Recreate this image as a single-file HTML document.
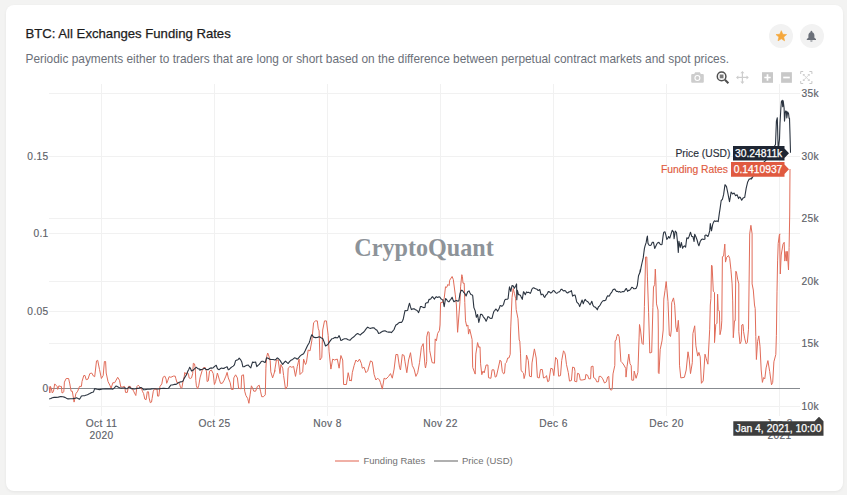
<!DOCTYPE html>
<html><head><meta charset="utf-8"><style>
html,body{margin:0;padding:0;}
body{width:847px;height:495px;background:#f3f3f2;position:relative;overflow:hidden;font-family:"Liberation Sans",sans-serif;}
.card{position:absolute;left:6px;top:5px;width:837px;height:486px;background:#fff;border-radius:8px;box-shadow:0 1px 3px rgba(0,0,0,0.06);}
.title{position:absolute;left:25.5px;top:26px;font-size:13.15px;line-height:16px;color:#1c1c1c;white-space:nowrap;-webkit-text-stroke:0.25px #1c1c1c;}
.sub{position:absolute;left:25.5px;top:51.8px;font-size:11.88px;line-height:14px;color:#6b7079;white-space:nowrap;}
.btn{position:absolute;top:24px;width:24px;height:24px;border-radius:50%;background:#f2f2f2;}
svg{position:absolute;left:0;top:0;}
</style></head><body>
<div class="card"></div>
<div class="title">BTC: All Exchanges Funding Rates</div>
<div class="sub">Periodic payments either to traders that are long or short based on the difference between perpetual contract markets and spot prices.</div>
<div class="btn" style="left:769px"></div>
<div class="btn" style="left:800px"></div>
<svg width="847" height="495" viewBox="0 0 847 495" font-family="Liberation Sans">
<path d="M781.30,30.70 L782.80,34.24 L786.63,34.57 L783.73,37.09 L784.59,40.83 L781.30,38.85 L778.01,40.83 L778.87,37.09 L775.97,34.57 L779.80,34.24 Z" fill="#f5a73b" stroke="#f5a73b" stroke-width="0.6" stroke-linejoin="round"/>
<path d="M808.4,35.2 c0,-1.9 1.3,-3.2 3,-3.2 c1.7,0 3,1.3 3,3.2 l0,2.5 l1.6,1.3 l0,0.9 l-9.2,0 l0,-0.9 l1.6,-1.3 Z M810.2,40.4 h2.4 a1.2,1.2 0 0 1 -2.4,0 Z" fill="#6b7079"/><circle cx="811.4" cy="31.7" r="0.9" fill="#6b7079"/>
<g stroke="#f1f1f1" stroke-width="1"><line x1="49" x2="800" y1="156.5" y2="156.5"/><line x1="49" x2="800" y1="233.5" y2="233.5"/><line x1="49" x2="800" y1="311.5" y2="311.5"/><line x1="49" x2="800" y1="93.5" y2="93.5"/><line x1="49" x2="800" y1="156.5" y2="156.5"/><line x1="49" x2="800" y1="218.5" y2="218.5"/><line x1="49" x2="800" y1="281.5" y2="281.5"/><line x1="49" x2="800" y1="343.5" y2="343.5"/><line x1="49" x2="800" y1="406.5" y2="406.5"/><line x1="101.5" x2="101.5" y1="84" y2="416"/><line x1="214.5" x2="214.5" y1="84" y2="416"/><line x1="327.5" x2="327.5" y1="84" y2="416"/><line x1="440.5" x2="440.5" y1="84" y2="416"/><line x1="553.5" x2="553.5" y1="84" y2="416"/><line x1="666.5" x2="666.5" y1="84" y2="416"/><line x1="779.5" x2="779.5" y1="84" y2="416"/></g>
<text x="354.3" y="256" font-family="Liberation Serif" font-weight="bold" font-size="25" fill="#8d9399" textLength="139.5" lengthAdjust="spacingAndGlyphs">CryptoQuant</text>
<line x1="49" x2="800" y1="388.5" y2="388.5" stroke="#878b90" stroke-width="1"/>
<g font-size="10.2" letter-spacing="0.35" fill="#5d6168" stroke="#5d6168" stroke-width="0.15"><text x="48.6" y="159.8" text-anchor="end">0.15</text><text x="48.6" y="236.8" text-anchor="end">0.1</text><text x="48.6" y="314.8" text-anchor="end">0.05</text><text x="48.6" y="391.8" text-anchor="end">0</text><text x="801.5" y="96.8">35k</text><text x="801.5" y="159.8">30k</text><text x="801.5" y="221.8">25k</text><text x="801.5" y="284.8">20k</text><text x="801.5" y="346.8">15k</text><text x="801.5" y="409.8">10k</text><text x="101.5" y="426.8" text-anchor="middle">Oct 11</text><text x="101.5" y="438.7" text-anchor="middle">2020</text><text x="214.5" y="426.8" text-anchor="middle">Oct 25</text><text x="327.5" y="426.8" text-anchor="middle">Nov 8</text><text x="440.5" y="426.8" text-anchor="middle">Nov 22</text><text x="553.5" y="426.8" text-anchor="middle">Dec 6</text><text x="666.5" y="426.8" text-anchor="middle">Dec 20</text><text x="779.5" y="426.8" text-anchor="middle">Jan 3</text><text x="779.5" y="438.7" text-anchor="middle">2021</text></g>
<path d="M49.2,386.4 L49.8,393.0 L50.5,386.4 L51.7,390.0 L52.3,393.0 L53.5,391.2 L54.7,383.9 L55.9,385.2 L57.1,386.4 L57.7,389.4 L58.9,385.8 L60.2,386.4 L61.4,386.4 L62.0,393.0 L63.2,392.4 L63.8,391.8 L64.4,382.1 L66.2,378.5 L68.6,378.5 L69.8,383.9 L71.1,391.2 L72.3,391.2 L74.1,402.1 L75.9,393.6 L77.7,391.2 L79.5,386.4 L81.4,386.4 L82.0,381.5 L83.8,375.5 L85.0,375.5 L86.2,379.7 L88.0,379.1 L89.8,373.6 L91.7,373.0 L93.5,376.1 L94.7,376.7 L96.5,360.9 L97.7,360.3 L99.5,369.4 L101.4,378.5 L103.2,375.5 L104.4,361.5 L105.6,361.5 L106.2,373.0 L108.0,381.5 L109.8,385.2 L111.1,388.2 L112.9,382.7 L114.7,382.7 L117.7,377.3 L119.5,380.3 L120.8,387.0 L122.6,387.0 L124.4,386.4 L124.8,387.0 L125.5,392.4 L127.3,392.4 L128.5,386.4 L130.3,386.4 L131.5,388.8 L132.7,389.4 L133.9,391.8 L135.8,395.5 L137.0,386.4 L138.2,385.2 L139.4,386.4 L140.0,388.8 L141.2,387.6 L142.4,391.2 L143.6,393.6 L144.8,399.1 L146.1,399.7 L147.3,391.8 L148.5,391.8 L149.1,397.9 L150.3,402.7 L151.5,402.1 L152.1,398.5 L153.3,391.2 L154.5,388.8 L155.8,389.4 L157.0,388.8 L157.6,396.1 L158.8,396.1 L160.0,386.4 L161.8,383.9 L163.0,377.3 L164.8,376.1 L166.1,379.1 L166.7,383.3 L167.9,380.3 L169.1,376.7 L170.9,377.3 L173.3,376.1 L175.2,376.1 L175.8,378.5 L177.0,382.7 L178.2,382.1 L179.4,383.3 L180.6,387.6 L181.8,388.2 L183.0,381.5 L184.2,376.7 L184.8,372.4 L186.1,374.2 L187.3,372.4 L188.5,374.2 L189.1,377.9 L190.3,378.5 L191.5,377.9 L192.7,373.6 L193.3,363.3 L194.5,363.9 L195.2,367.6 L195.8,380.3 L196.4,385.8 L197.6,388.8 L198.8,385.2 L200.0,377.9 L200.5,376.1 L202.3,370.0 L203.5,367.6 L205.3,367.6 L206.5,371.8 L207.1,381.5 L208.3,380.9 L209.5,371.2 L211.4,370.0 L213.2,373.6 L214.4,384.5 L215.6,381.5 L217.4,373.0 L219.2,379.1 L220.5,383.3 L222.3,383.3 L224.1,380.3 L225.9,376.1 L227.1,372.4 L228.3,377.9 L230.2,382.7 L231.4,389.4 L233.2,389.4 L233.8,377.9 L235.6,374.8 L237.4,377.9 L238.6,388.2 L241.1,388.8 L241.7,375.5 L243.5,374.8 L244.7,391.2 L245.9,395.5 L247.7,398.5 L248.9,403.3 L250.2,394.2 L251.4,385.8 L252.6,388.2 L253.8,391.2 L255.6,391.2 L257.4,386.4 L259.2,385.2 L260.5,391.2 L261.7,396.7 L263.5,396.7 L265.3,394.8 L265.9,368.2 L266.5,357.3 L267.7,353.0 L268.9,356.1 L270.2,360.9 L270.8,371.8 L272.6,377.9 L273.8,374.2 L275.0,370.6 L274.5,371.8 L276.4,360.0 L278.2,360.0 L280.0,373.6 L280.9,364.5 L282.7,368.2 L283.6,375.5 L285.5,389.1 L287.3,386.4 L288.2,368.2 L290.0,366.4 L291.8,367.3 L293.6,366.4 L295.5,376.4 L297.3,366.4 L298.2,362.7 L299.1,359.1 L300.0,374.5 L302.7,371.8 L303.6,359.1 L305.5,364.5 L306.4,362.7 L308.2,350.0 L310.0,350.9 L311.8,340.9 L313.6,322.7 L315.5,320.9 L317.3,320.9 L318.2,328.2 L319.1,330.9 L320.0,360.0 L321.8,357.3 L322.7,330.0 L324.5,320.9 L326.4,320.9 L328.2,335.5 L329.1,351.8 L330.9,369.1 L332.7,359.1 L334.5,360.0 L337.3,359.1 L339.1,368.2 L340.9,355.5 L342.7,360.0 L343.6,384.5 L346.4,384.5 L348.2,372.7 L350.0,380.9 L349.5,380.0 L351.4,380.9 L352.3,372.7 L354.1,365.5 L355.9,360.0 L357.7,361.8 L359.5,359.1 L361.4,363.6 L362.3,368.2 L364.1,367.3 L365.9,372.7 L367.7,370.9 L370.5,360.9 L372.3,361.8 L374.1,374.5 L375.9,380.0 L377.7,378.2 L379.5,380.0 L380.5,382.7 L382.3,389.1 L384.1,378.2 L385.9,379.1 L388.6,376.4 L390.5,373.6 L392.3,378.2 L394.1,369.1 L395.9,354.5 L397.7,354.5 L399.5,367.3 L400.5,370.0 L402.3,354.5 L404.1,355.5 L405.0,361.8 L406.8,372.7 L408.6,360.0 L410.5,352.7 L412.3,365.5 L414.1,369.1 L415.9,376.4 L417.7,372.7 L419.5,362.7 L421.4,347.3 L423.2,343.6 L425.0,365.5 L425.5,368.0 L426.7,361.4 L426.7,337.1 L427.9,331.7 L429.1,332.3 L429.7,350.5 L432.1,362.6 L434.5,363.2 L435.2,338.9 L436.4,340.8 L437.6,333.5 L439.4,330.5 L440.0,325.0 L440.6,302.6 L442.4,302.6 L444.2,298.3 L445.5,286.8 L446.7,287.4 L447.9,284.4 L449.1,285.6 L449.7,280.2 L452.1,276.5 L453.3,279.5 L455.2,294.1 L456.4,305.0 L457.6,332.3 L460.0,301.4 L460.6,286.8 L461.8,274.7 L462.4,276.5 L463.0,283.2 L464.2,283.2 L464.8,302.6 L465.5,320.8 L466.7,326.2 L467.9,325.0 L468.5,334.1 L469.7,329.2 L472.1,339.5 L472.7,367.4 L475.2,374.1 L475.8,354.1 L477.6,342.6 L478.8,347.4 L480.0,346.8 L480.6,363.8 L481.8,374.7 L483.0,371.1 L484.2,372.9 L486.1,365.0 L487.9,365.0 L488.5,377.7 L490.9,378.3 L492.1,369.8 L493.9,369.8 L495.2,377.1 L496.4,376.5 L500.0,360.2 L499.8,360.5 L501.1,361.1 L502.3,371.4 L503.5,373.8 L504.5,373.2 L505.3,363.5 L506.5,362.3 L507.7,358.0 L508.9,358.0 L510.2,354.4 L510.5,335.0 L510.8,326.1 L512.0,297.6 L513.2,288.5 L514.4,293.3 L515.6,298.2 L516.2,309.7 L518.0,318.8 L519.2,340.0 L519.8,341.1 L520.5,353.2 L521.1,370.2 L522.3,372.0 L523.5,373.2 L524.1,378.6 L525.3,373.8 L526.5,355.0 L528.3,360.5 L529.5,376.2 L531.4,376.8 L532.0,362.9 L534.4,348.9 L536.2,358.0 L537.4,377.4 L539.2,378.0 L540.5,369.5 L542.3,369.5 L543.5,378.0 L545.3,377.4 L546.5,375.6 L547.7,381.7 L548.9,381.1 L550.8,368.3 L552.6,368.9 L553.8,375.6 L555.6,357.4 L557.4,359.8 L558.6,376.2 L560.5,375.6 L561.7,360.5 L563.5,350.8 L564.7,352.6 L565.3,355.0 L566.5,364.7 L568.3,372.6 L569.5,381.1 L571.4,380.5 L572.6,367.1 L574.4,367.7 L575.0,371.4 L574.6,381.2 L576.7,381.8 L577.5,373.3 L579.1,373.9 L580.3,380.0 L582.1,380.0 L585.2,379.4 L585.8,374.5 L587.6,375.2 L588.8,378.8 L590.6,378.8 L591.2,366.7 L593.0,366.1 L593.6,377.6 L595.5,378.8 L596.7,381.8 L598.5,381.8 L599.1,376.4 L600.9,376.4 L602.7,378.8 L604.5,383.0 L606.4,381.8 L607.6,377.0 L608.8,376.4 L609.4,388.5 L611.2,390.3 L612.2,389.1 L613.0,373.9 L614.8,365.5 L615.1,340.8 L616.1,340.2 L616.7,336.5 L617.9,334.1 L619.1,336.5 L619.7,343.2 L620.9,361.4 L622.1,362.6 L623.9,365.0 L625.8,368.6 L626.0,377.1 L627.0,366.8 L628.8,354.1 L630.0,363.8 L631.2,365.6 L631.8,380.2 L633.6,380.2 L634.2,371.1 L636.1,378.3 L637.9,372.3 L639.1,337.1 L639.5,324.5 L640.5,330.0 L642.0,343.3 L643.2,344.5 L643.8,330.0 L644.4,306.4 L645.6,257.0 L646.8,257.0 L647.4,276.1 L648.6,312.4 L649.8,353.0 L651.7,352.4 L652.3,330.0 L652.9,307.6 L653.5,287.0 L654.7,284.5 L655.3,269.1 L655.9,282.1 L656.5,303.9 L658.0,310.0 L658.3,330.0 L658.3,372.4 L659.0,373.6 L660.2,349.4 L662.0,340.9 L663.2,330.0 L663.8,299.1 L665.0,290.6 L666.2,281.5 L666.8,288.2 L668.0,301.5 L669.3,335.0 L670.5,336.5 L671.3,330.0 L671.7,302.7 L673.5,297.9 L674.7,305.2 L675.9,327.0 L677.1,332.0 L678.3,320.3 L679.0,330.0 L679.5,365.2 L680.8,377.9 L684.4,377.3 L686.2,370.0 L688.0,351.8 L689.2,359.1 L690.5,373.6 L692.3,362.7 L692.9,333.6 L694.7,325.8 L695.9,345.8 L697.7,356.1 L698.9,352.4 L700.2,356.7 L701.4,383.3 L703.2,380.9 L705.0,354.2 L706.1,358.2 L707.9,364.2 L709.7,329.2 L710.3,305.0 L710.9,298.5 L711.5,265.2 L712.1,265.8 L713.3,291.2 L714.5,292.4 L714.5,342.6 L715.8,324.4 L717.0,323.2 L717.6,294.2 L718.2,309.8 L719.4,311.1 L720.0,334.7 L721.2,329.2 L721.8,320.8 L722.4,256.7 L723.6,256.1 L724.8,244.1 L725.5,262.1 L726.7,257.3 L728.5,255.5 L729.7,258.5 L730.9,269.4 L732.1,283.9 L732.7,300.9 L733.3,337.7 L734.5,320.8 L735.2,320.8 L735.8,271.2 L736.4,271.8 L737.6,279.1 L738.8,283.9 L738.8,331.7 L740.0,343.8 L741.2,341.4 L741.8,325.0 L743.0,324.4 L743.6,331.7 L744.8,338.9 L746.1,343.8 L747.3,342.6 L748.5,329.2 L749.7,233.8 L750.9,225.3 L752.1,233.8 L752.1,283.9 L753.3,290.0 L754.5,305.0 L755.2,308.6 L755.8,336.5 L756.4,359.5 L757.6,341.4 L758.8,335.9 L760.0,346.2 L761.2,370.0 L762.4,382.4 L763.6,377.6 L764.8,378.8 L766.1,367.9 L767.9,360.6 L769.7,371.5 L771.5,384.8 L772.7,382.4 L773.9,361.8 L775.8,354.5 L776.4,335.3 L777.0,291.2 L777.6,260.9 L778.2,243.5 L779.4,234.4 L780.0,233.8 L779.6,235.6 L780.3,274.0 L781.2,255.0 L783.0,244.1 L784.2,242.3 L784.8,261.1 L786.1,251.4 L786.7,261.1 L787.3,251.4 L788.5,270.0 L789.1,247.7 L789.7,215.0 L790.0,169.0" fill="none" stroke="#e16c59" stroke-width="1" stroke-linejoin="round"/>
<path d="M49.2,399.1 L50.8,398.6 L52.3,397.8 L54.1,397.4 L55.9,397.4 L58.3,397.1 L60.8,396.5 L62.9,396.8 L65.0,397.4 L66.5,398.3 L68.0,398.9 L70.5,398.7 L72.9,398.6 L74.7,398.4 L76.5,397.8 L78.0,398.4 L79.5,399.2 L80.5,397.7 L81.4,396.0 L83.2,395.7 L85.0,395.6 L87.4,394.8 L89.8,393.6 L91.7,392.5 L93.5,391.9 L94.7,388.6 L97.1,389.3 L99.5,389.6 L102.6,389.0 L105.6,388.7 L108.0,388.9 L110.5,388.9 L111.7,388.9 L112.9,389.2 L114.4,387.8 L115.9,386.0 L116.8,386.3 L117.7,386.8 L119.5,387.7 L121.4,388.3 L123.2,388.0 L125.0,387.9 L124.8,388.3 L126.1,388.7 L127.3,388.6 L128.5,387.6 L129.7,387.1 L130.6,388.1 L131.5,388.7 L132.4,388.6 L133.3,388.9 L134.5,389.0 L135.8,388.7 L137.0,388.4 L138.2,388.4 L139.4,388.1 L140.6,387.5 L141.5,387.8 L142.4,388.4 L143.6,389.8 L144.8,389.8 L146.1,389.5 L147.6,389.2 L149.1,389.2 L150.3,389.2 L151.5,388.9 L153.3,388.7 L155.2,388.7 L157.0,389.0 L158.8,388.9 L161.2,388.5 L163.6,388.3 L166.1,388.5 L168.5,388.3 L169.7,386.6 L170.9,385.0 L172.1,385.0 L173.3,384.7 L174.5,384.4 L175.8,384.4 L177.0,383.7 L178.2,382.9 L179.4,382.2 L180.6,381.9 L181.8,381.7 L183.0,381.1 L184.2,378.4 L185.5,376.2 L186.7,374.4 L187.9,371.0 L188.8,369.4 L189.7,367.3 L190.6,368.8 L191.5,371.0 L192.7,370.5 L193.9,369.5 L195.2,368.1 L196.4,367.3 L197.6,368.4 L198.8,368.9 L200.0,369.2 L199.8,370.3 L201.1,369.6 L202.3,369.3 L203.2,369.0 L204.1,368.4 L205.0,368.5 L205.9,369.3 L207.1,369.6 L208.3,369.6 L209.5,368.5 L210.8,367.9 L212.0,368.1 L213.2,367.8 L214.1,366.8 L215.0,366.1 L216.2,365.3 L217.4,368.5 L218.3,369.4 L219.2,369.6 L220.5,368.5 L221.7,368.0 L222.9,368.4 L224.1,368.4 L225.0,367.6 L225.9,367.3 L227.1,366.7 L228.3,369.8 L229.2,369.4 L230.2,368.4 L231.1,367.5 L232.0,366.9 L233.2,366.1 L234.4,364.8 L235.6,360.7 L236.5,360.1 L237.4,360.0 L238.3,359.4 L239.2,358.2 L240.5,359.6 L241.7,361.7 L242.9,366.8 L244.1,366.7 L245.3,366.0 L246.8,365.3 L248.3,365.0 L249.5,366.7 L250.8,367.8 L251.7,364.6 L252.6,362.0 L253.5,362.4 L254.4,362.2 L255.6,362.0 L256.8,366.6 L258.0,365.4 L259.2,364.4 L260.2,363.2 L261.1,361.7 L262.0,361.3 L262.9,361.3 L264.1,362.1 L265.3,362.4 L266.5,357.8 L267.7,358.1 L268.9,358.7 L270.2,359.4 L271.4,359.5 L273.2,359.5 L275.0,360.0 L276.1,359.2 L277.3,357.9 L278.6,358.8 L280.0,360.3 L281.4,362.6 L282.7,364.4 L284.1,362.5 L285.5,361.1 L286.8,362.4 L288.2,363.5 L289.5,361.6 L290.9,360.3 L292.7,359.4 L294.5,357.8 L295.9,358.3 L297.3,359.2 L298.6,358.0 L300.0,356.2 L301.8,354.7 L303.6,353.8 L305.0,351.1 L306.4,348.0 L307.7,345.2 L309.1,343.0 L310.0,340.2 L310.9,337.0 L311.8,334.7 L312.7,335.8 L313.6,337.1 L315.5,337.6 L317.3,337.5 L318.6,336.9 L320.0,337.0 L321.4,338.0 L322.7,338.5 L324.1,341.9 L325.5,346.0 L326.8,345.3 L328.2,343.9 L330.0,341.1 L331.8,338.8 L333.2,338.5 L334.5,337.6 L335.9,337.4 L337.3,337.9 L338.2,337.1 L339.1,335.6 L340.0,337.7 L340.9,340.5 L341.8,340.3 L342.7,339.4 L344.5,338.8 L346.4,338.7 L348.2,339.7 L350.0,340.3 L351.1,339.0 L352.3,337.9 L353.6,337.0 L355.0,335.7 L356.4,334.2 L357.7,333.5 L359.1,334.4 L360.5,334.9 L361.8,333.4 L363.2,332.6 L364.5,331.1 L365.9,329.2 L366.8,328.0 L367.7,327.1 L369.1,328.0 L370.5,328.4 L372.3,327.8 L374.1,327.9 L375.5,329.4 L376.8,330.1 L377.7,331.5 L378.6,333.5 L380.0,333.0 L381.4,332.0 L383.2,331.1 L385.0,330.8 L386.8,331.7 L388.6,332.1 L390.0,332.0 L391.4,332.6 L392.7,331.2 L394.1,329.5 L395.0,326.9 L395.9,325.1 L397.3,324.3 L398.6,322.9 L400.0,322.3 L401.4,322.5 L402.3,321.4 L403.2,319.3 L404.1,314.8 L405.0,310.6 L406.4,310.7 L407.7,310.2 L408.6,306.2 L409.5,303.2 L410.5,306.9 L411.4,309.6 L412.7,308.9 L414.1,308.8 L415.5,309.8 L416.8,310.3 L417.7,311.2 L418.6,312.6 L419.5,310.0 L420.5,306.5 L421.4,306.5 L422.3,307.0 L423.6,307.6 L425.0,307.5 L425.5,303.4 L426.7,302.8 L427.9,302.8 L429.1,299.3 L430.0,299.4 L430.9,298.8 L431.8,297.3 L432.7,296.7 L433.6,298.2 L434.5,299.1 L435.4,297.5 L436.4,296.7 L437.3,297.4 L438.2,297.3 L439.1,296.8 L440.0,297.3 L440.9,298.8 L441.8,299.4 L443.0,300.3 L444.2,306.6 L445.5,298.6 L446.4,299.3 L447.3,300.5 L448.2,301.6 L449.1,301.8 L450.0,300.2 L450.9,299.3 L452.1,297.3 L453.0,299.8 L453.9,301.8 L455.1,301.0 L456.4,300.5 L457.6,301.1 L458.8,301.0 L460.0,293.6 L461.2,290.3 L462.1,290.4 L463.0,291.2 L463.9,292.6 L464.8,293.4 L466.1,296.0 L467.0,293.5 L467.9,291.5 L469.1,290.9 L470.0,293.0 L470.9,294.5 L471.8,294.7 L472.7,295.6 L473.9,307.6 L475.2,310.9 L476.4,317.3 L477.6,314.5 L478.8,322.4 L479.7,318.7 L480.6,314.2 L481.5,314.4 L482.4,315.0 L483.3,316.8 L484.2,317.9 L485.1,319.1 L486.1,321.3 L487.0,319.2 L487.9,316.6 L488.8,316.9 L489.7,318.0 L490.9,318.4 L492.1,318.1 L493.0,314.3 L493.9,311.3 L494.9,310.4 L495.8,309.0 L496.7,309.8 L497.6,311.3 L498.8,309.2 L500.0,306.4 L499.8,306.0 L500.8,305.6 L501.7,306.3 L502.6,305.8 L503.5,304.5 L504.7,300.2 L505.6,299.4 L506.5,299.2 L507.3,299.3 L508.1,298.6 L508.9,291.3 L509.5,286.8 L510.8,291.4 L512.0,285.6 L513.2,285.9 L514.4,288.3 L515.6,286.0 L516.6,283.9 L516.8,299.8 L517.4,290.4 L518.6,294.8 L519.5,294.8 L520.5,295.5 L521.4,297.6 L522.3,299.3 L523.5,291.7 L524.4,292.9 L525.3,294.7 L526.5,291.9 L527.4,292.6 L528.3,292.3 L529.2,292.6 L530.2,293.4 L531.1,291.7 L532.0,289.0 L532.9,288.0 L533.8,287.7 L535.0,288.6 L536.2,289.0 L537.1,289.3 L538.0,290.4 L538.9,290.2 L539.8,289.5 L541.1,294.9 L542.0,294.3 L542.9,294.3 L543.8,296.3 L544.7,297.4 L545.6,295.5 L546.5,294.7 L547.4,293.6 L548.3,291.6 L549.5,291.9 L550.8,293.1 L552.0,292.3 L553.2,290.5 L554.4,291.1 L555.6,292.6 L556.5,293.2 L557.4,293.0 L558.3,292.0 L559.2,292.0 L560.2,290.8 L561.1,289.2 L562.0,289.4 L562.9,290.5 L563.8,291.0 L564.7,290.6 L565.6,291.0 L566.5,292.4 L567.7,293.0 L568.9,291.9 L570.1,291.7 L571.4,290.6 L572.6,296.1 L573.8,295.2 L575.0,295.0 L575.5,296.6 L576.7,301.8 L577.6,303.0 L578.5,303.6 L579.7,306.6 L580.9,303.2 L582.1,300.0 L583.3,303.8 L584.2,301.1 L585.2,299.4 L586.1,300.6 L587.0,301.3 L587.9,301.8 L588.8,303.0 L590.0,304.7 L590.9,303.3 L591.8,301.2 L593.0,305.4 L594.2,306.8 L595.2,307.1 L596.1,308.0 L597.3,309.8 L598.5,306.7 L599.4,306.1 L600.3,304.7 L601.5,302.5 L602.7,301.0 L603.9,300.6 L604.8,300.6 L605.8,300.0 L606.7,297.5 L607.6,295.7 L608.5,296.1 L609.4,295.9 L610.3,294.0 L611.2,292.8 L612.1,291.6 L613.0,289.8 L613.9,289.2 L614.8,289.1 L615.8,290.6 L616.7,291.5 L617.6,291.4 L618.5,292.0 L619.7,291.6 L620.6,292.3 L621.5,292.0 L622.7,291.5 L623.9,291.7 L624.8,290.6 L625.8,288.9 L626.4,288.5 L627.6,291.4 L628.5,290.4 L629.4,290.4 L630.6,289.3 L631.8,287.2 L632.7,287.5 L633.6,288.6 L634.8,288.8 L636.1,288.4 L637.3,285.5 L638.5,275.7 L639.7,273.0 L640.3,269.5 L640.2,272.1 L641.1,267.2 L642.0,263.0 L643.2,257.9 L644.4,248.6 L645.0,246.2 L646.2,242.4 L646.8,238.5 L647.4,236.1 L648.0,243.4 L649.2,245.3 L650.2,245.5 L651.1,245.1 L652.3,242.2 L653.5,242.3 L654.7,248.5 L655.9,246.1 L656.8,244.0 L657.7,242.7 L658.9,242.4 L660.2,244.3 L661.1,244.7 L662.0,244.5 L663.2,235.1 L663.8,232.2 L665.0,231.8 L665.9,235.2 L666.8,239.5 L667.7,238.4 L668.6,236.6 L669.8,238.1 L671.1,233.8 L672.3,230.3 L673.5,231.8 L674.1,238.6 L675.3,231.0 L676.5,232.5 L677.7,243.9 L678.3,252.4 L678.9,241.2 L680.2,247.5 L681.4,242.5 L682.6,248.3 L683.5,246.6 L684.4,245.9 L685.6,247.1 L686.8,237.7 L688.0,238.7 L689.2,236.2 L690.5,232.2 L691.7,236.4 L692.9,236.5 L694.1,241.5 L694.7,234.2 L695.9,236.8 L697.1,240.0 L698.0,243.5 L698.9,245.8 L700.2,241.5 L701.4,239.6 L702.6,239.0 L703.8,239.4 L705.0,238.9 L704.8,235.6 L705.8,235.0 L706.7,235.3 L707.9,236.5 L708.8,234.2 L709.7,230.9 L710.3,223.6 L711.5,230.8 L712.7,224.4 L713.6,222.1 L714.5,220.8 L715.5,221.4 L716.4,221.1 L717.3,221.0 L718.2,221.6 L719.4,212.9 L720.0,209.1 L721.2,200.5 L722.4,199.3 L723.6,194.7 L725.0,184.7 L726.5,186.7 L728.0,193.8 L729.5,201.6 L730.3,197.2 L731.1,192.0 L732.6,193.9 L734.1,193.1 L735.6,195.7 L737.1,194.8 L738.6,198.6 L739.4,197.1 L740.2,197.2 L741.7,200.3 L743.2,197.9 L744.7,197.3 L746.2,188.1 L747.7,181.9 L749.2,179.1 L750.4,178.9 L751.5,177.9 L751.5,179.0 L755.8,171.6 L760.0,165.4 L765.0,161.1 L770.0,155.4 L772.8,149.0 L775.5,144.5 L776.4,121.2 L777.3,117.7 L778.2,150.3 L779.5,139.2 L780.0,123.4 L780.9,107.7 L781.4,101.6 L782.3,100.3 L782.7,106.8 L783.2,100.8 L784.1,108.0 L784.5,121.1 L785.5,111.0 L786.4,111.2 L786.8,118.0 L787.7,111.9 L788.6,113.8 L789.1,118.5 L789.5,118.2 L790.0,134.2 L790.5,152.7" fill="none" stroke="#2b3440" stroke-width="1.1" stroke-linejoin="round"/>
<path d="M733,146 L784.5,146 L784.5,148.5 L789,153.3 L784.5,158 L784.5,160.6 L733,160.6 Z" fill="#1f2633"/>
<text x="758.6" y="156.8" text-anchor="middle" font-size="10.3" fill="#fff" stroke="#fff" stroke-width="0.25">30.24811k</text>
<text x="730.4" y="156.8" text-anchor="end" font-size="10.3" fill="#2a2f3a" stroke="#2a2f3a" stroke-width="0.15">Price (USD)</text>
<path d="M731,162 L784.5,162 L784.5,164.5 L789,169.2 L784.5,174 L784.5,176.8 L731,176.8 Z" fill="#e05a40"/>
<text x="758" y="172.6" text-anchor="middle" font-size="10.3" fill="#fff" stroke="#fff" stroke-width="0.25">0.1410937</text>
<text x="728" y="172.6" text-anchor="end" font-size="10.3" fill="#e05a40" stroke="#e05a40" stroke-width="0.15">Funding Rates</text>
<path d="M733.3,421.2 L814.6,421.2 L819,416.8 L823.5,421.2 L823.5,435.7 L733.3,435.7 Z" fill="#3d3d3d"/>
<text x="778.5" y="431.8" text-anchor="middle" font-size="10.4" fill="#fff" stroke="#fff" stroke-width="0.25">Jan 4, 2021, 10:00</text>
<line x1="335" x2="359" y1="461" y2="461" stroke="#f0b0a6" stroke-width="2"/>
<text x="363.5" y="464" font-size="9.5" fill="#717171">Funding Rates</text>
<line x1="434" x2="458" y1="461" y2="461" stroke="#b0b0b0" stroke-width="2"/>
<text x="462" y="464" font-size="9.5" fill="#717171">Price (USD)</text>
<path d="M692.2,74 h2 l0.9,-1.8 h4.8 l0.9,1.8 h2 a1,1 0 0 1 1,1 v6.7 a1,1 0 0 1 -1,1 h-10.6 a1,1 0 0 1 -1,-1 v-6.7 a1,1 0 0 1 1,-1 Z" fill="#cdcdcd"/>
<circle cx="697.4" cy="78" r="3" fill="#fff"/>
<circle cx="697.4" cy="78" r="1.9" fill="#cdcdcd"/>
<circle cx="721.6" cy="76.4" r="4.3" fill="#fff" stroke="#505050" stroke-width="1.5"/>
<rect x="719.7" y="74.5" width="3.8" height="3.8" fill="#7a7a7a"/>
<line x1="724.9" y1="79.7" x2="728.4" y2="83.2" stroke="#505050" stroke-width="2"/>
<g stroke="#cdcdcd" stroke-width="1.2" fill="none">
<line x1="742.4" y1="72" x2="742.4" y2="83"/><line x1="737" y1="77.4" x2="747.8" y2="77.4"/>
</g>
<path d="M742.4,71 l-2,2.3 h4 Z M742.4,83.9 l-2,-2.3 h4 Z M736,77.4 l2.3,-2 v4 Z M748.8,77.4 l-2.3,-2 v4 Z" fill="#cdcdcd"/>
<rect x="762" y="72.2" width="11" height="10.6" fill="#c8c8c8"/>
<path d="M767.5,74.3 v6.4 M764.3,77.5 h6.4" stroke="#fff" stroke-width="1.7"/>
<rect x="781.1" y="72.2" width="10.8" height="10.6" fill="#c8c8c8"/>
<path d="M783.2,77.5 h6.6" stroke="#fff" stroke-width="1.7"/>
<g stroke="#c8c8c8" stroke-width="1" fill="none">
<path d="M800.7,74 v-2.5 h2.5 M809.4,71.5 h2.5 v2.5 M811.9,81 v2.5 h-2.5 M803.2,83.5 h-2.5 v-2.5"/>
<path d="M803.4,74.6 L809.2,80.4 M809.2,74.6 L803.4,80.4" stroke="#d6d6d6"/>
</g>
<path d="M802.9,74 h2.3 l-2.3,2.3 Z M809.7,74 h-2.3 l2.3,2.3 Z M802.9,81 h2.3 l-2.3,-2.3 Z M809.7,81 h-2.3 l2.3,-2.3 Z" fill="#d0d0d0"/>
</svg>
</body></html>
